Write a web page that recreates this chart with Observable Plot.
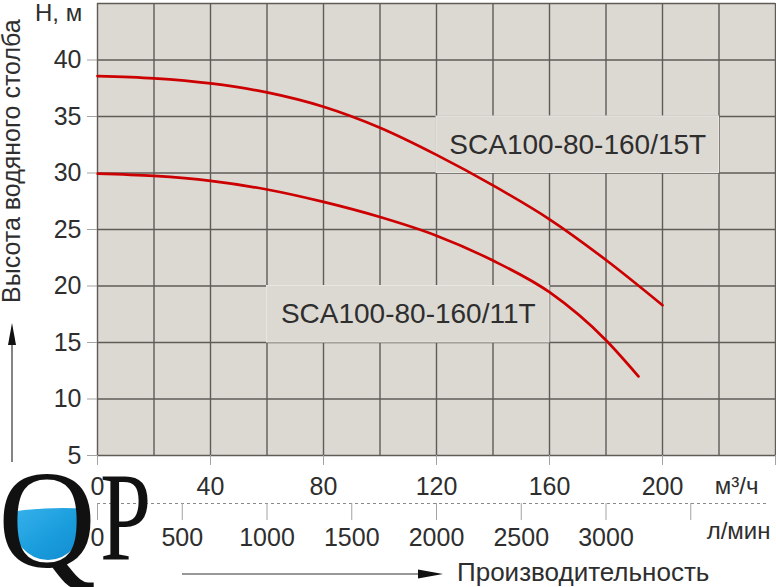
<!DOCTYPE html>
<html>
<head>
<meta charset="utf-8">
<script src="https://cdn.jsdelivr.net/npm/d3@7"></script>
<script src="https://cdn.jsdelivr.net/npm/@observablehq/plot@0.6"></script>
<style>
  html, body { margin: 0; padding: 0; background: #fff; }
  #chart { width: 776px; height: 587px; overflow: hidden; }
  svg { font-family: "Liberation Sans", Arial, sans-serif; }
</style>
</head>
<body>
<div id="chart"></div>
<script>
// ---- data ----
const flow15 = [0, 20, 40, 60, 80, 100, 120, 140, 160, 180, 200];          // m³/h
const head15 = [38.58, 38.38, 37.93, 37.13, 35.86, 34.0, 31.6, 28.9, 25.9, 22.3, 18.3]; // m
const flow11 = [0, 20, 40, 60, 80, 100, 120, 140, 160, 180, 191.5];
const head11 = [29.95, 29.74, 29.3, 28.54, 27.44, 26.1, 24.45, 22.25, 19.45, 15.2, 12.0];

const seriesNames = ["SCA100-80-160/15T", "SCA100-80-160/11T"];
// label boxes (grid cells they occupy, in data units)
const boxX1 = [120, 60];
const boxX2 = [220, 160];
const boxY1 = [30, 15];
const boxY2 = [35, 20];

const yTicks = [5, 10, 15, 20, 25, 30, 35, 40];
const gridXTicks = [0, 20, 40, 60, 80, 100, 120, 140, 160, 180, 200, 220, 240];
const gridYTicks = [5, 10, 15, 20, 25, 30, 35, 40, 45];
const m3hTicks = [0, 40, 80, 120, 160, 200, 240];
const m3hLabels = [0, 40, 80, 120, 160, 200];
const lpmTicks = [0, 500, 1000, 1500, 2000, 2500, 3000, 3500];
const lpmLabels = [0, 500, 1000, 1500, 2000, 2500, 3000];

const xDomain = [0, 240];
const yDomain = [5, 45];

// ---- layout ----
const W = 776, H = 587;
const mTop = 3, mRight = 1, mBottom = 132, mLeft = 97;
const frameH = H - mTop - mBottom;
const bg = "#dcd8d2";
const gridColor = "#5f5b57";
const tickColor = "#a3a3a3";
const textColor = "#2e2e2e";
const red = "#cc0000";
const lpmToM3h = v => v * 60 / 1000;

const curves = [
  ...flow15.map((f, i) => ({series: seriesNames[0], flow: f, head: head15[i]})),
  ...flow11.map((f, i) => ({series: seriesNames[1], flow: f, head: head11[i]}))
];
const boxes = seriesNames.map((s, i) => ({name: s, x1: boxX1[i], x2: boxX2[i], y1: boxY1[i], y2: boxY2[i]}));

const chart = Plot.plot({
  width: W, height: H,
  marginTop: mTop, marginRight: mRight, marginBottom: mBottom, marginLeft: mLeft,
  style: {fontFamily: "'Liberation Sans', Arial, sans-serif", background: "transparent", overflow: "visible"},
  x: {domain: xDomain},
  y: {domain: yDomain},
  marks: [
    Plot.frame({fill: bg, stroke: null}),
    Plot.gridX({ticks: gridXTicks, stroke: gridColor, strokeOpacity: 1, strokeWidth: 1.4}),
    Plot.gridY({ticks: gridYTicks, stroke: gridColor, strokeOpacity: 1, strokeWidth: 1.4}),
    Plot.rect(boxes, {x1: "x1", x2: "x2", y1: "y1", y2: "y2", fill: bg, stroke: "#e9e6e1", strokeWidth: 1}),
    Plot.line(curves, {x: "flow", y: "head", z: "series", stroke: red, strokeWidth: 2.7, curve: "monotone-x"}),
    Plot.text(boxes, {x: d => (d.x1 + d.x2) / 2, y: d => (d.y1 + d.y2) / 2, text: "name", fontSize: 28, fill: textColor}),
    // Y axis
    Plot.axisY({ticks: yTicks, tickSize: 10, tickPadding: 6, fontSize: 25, stroke: tickColor, fill: textColor, label: null}),
    // upper X axis (m³/h)
    Plot.axisX({ticks: m3hTicks, tickSize: 10, tickPadding: 0, text: null, stroke: tickColor, label: null}),
    Plot.text(m3hLabels, {x: d => d, text: d => String(d), frameAnchor: "bottom", lineAnchor: "top", dy: 22, fontSize: 25, fill: textColor}),
    Plot.text(["м³/ч"], {frameAnchor: "bottom-right", textAnchor: "end", lineAnchor: "top", dx: -17, dy: 21, fontSize: 24, fill: textColor}),
    // lower X axis (л/мин)
    Plot.ruleY([yDomain[0]], {dy: 48, insetRight: 8, stroke: "#8a8a8a", strokeWidth: 1, strokeDasharray: "3,3"}),
    Plot.ruleX(lpmTicks, {x: lpmToM3h, insetTop: frameH + 48, insetBottom: -65, stroke: tickColor, strokeWidth: 1}),
    Plot.text(lpmLabels, {x: lpmToM3h, text: d => String(d), frameAnchor: "bottom", lineAnchor: "top", dy: 73, fontSize: 25, fill: textColor}),
    Plot.text(["л/мин"], {frameAnchor: "bottom-right", textAnchor: "end", lineAnchor: "top", dx: -5, dy: 66, fontSize: 24, fill: textColor})
  ]
});

document.getElementById("chart").appendChild(chart);

// ---- decorations (titles, arrows, logo) ----
const svg = d3.select(chart);
const deco = svg.append("g")
  .attr("font-family", "'Liberation Sans', Arial, sans-serif")
  .attr("text-anchor", "start")
  .attr("fill", textColor);

deco.append("text").attr("x", 35).attr("y", 21).attr("font-size", 24).text("H, м");
deco.append("text")
  .attr("transform", "translate(20,303) rotate(-90)")
  .attr("font-size", 25).attr("text-anchor", "start")
  .text("Высота водяного столба");

// vertical arrow
deco.append("line").attr("x1", 12).attr("x2", 12).attr("y1", 462).attr("y2", 340)
  .attr("stroke", "#333").attr("stroke-width", 1.2);
deco.append("path").attr("d", "M12,323 L16,345 L8,345 Z").attr("fill", "#111");

// horizontal arrow + label
deco.append("line").attr("x1", 182).attr("x2", 425).attr("y1", 574).attr("y2", 574)
  .attr("stroke", "#333").attr("stroke-width", 1.2);
deco.append("path").attr("d", "M443,574 L418,569.5 L418,578.5 Z").attr("fill", "#111");
deco.append("text").attr("x", 457).attr("y", 581).attr("font-size", 26).text("Производительность");

// logo "QP"
const defs = svg.append("defs");
const grad = defs.append("linearGradient").attr("id", "water").attr("x1", 0).attr("y1", 0).attr("x2", 1).attr("y2", 1);
grad.append("stop").attr("offset", "0%").attr("stop-color", "#3ab4ee");
grad.append("stop").attr("offset", "50%").attr("stop-color", "#1a9ddc");
grad.append("stop").attr("offset", "100%").attr("stop-color", "#0e84cc");
defs.append("clipPath").attr("id", "qcounter")
  .append("ellipse").attr("cx", 48).attr("cy", 520).attr("rx", 36).attr("ry", 40);
const logo = svg.append("g").attr("text-anchor", "start");
logo.append("path").attr("clip-path", "url(#qcounter)")
  .attr("d", "M5,513 Q45,506 90,509 L90,570 L5,570 Z").attr("fill", "url(#water)");
logo.append("text").attr("transform", "translate(-2,567) scale(0.97,1)")
  .attr("font-family", "'Liberation Serif', 'DejaVu Serif', serif")
  .attr("font-size", 140).attr("fill", "#111").text("Q");
logo.append("text").attr("transform", "translate(100,560) scale(0.72,1)")
  .attr("font-family", "'Liberation Serif', 'DejaVu Serif', serif")
  .attr("font-size", 128).attr("fill", "#111").text("P");
</script>
</body>
</html>
